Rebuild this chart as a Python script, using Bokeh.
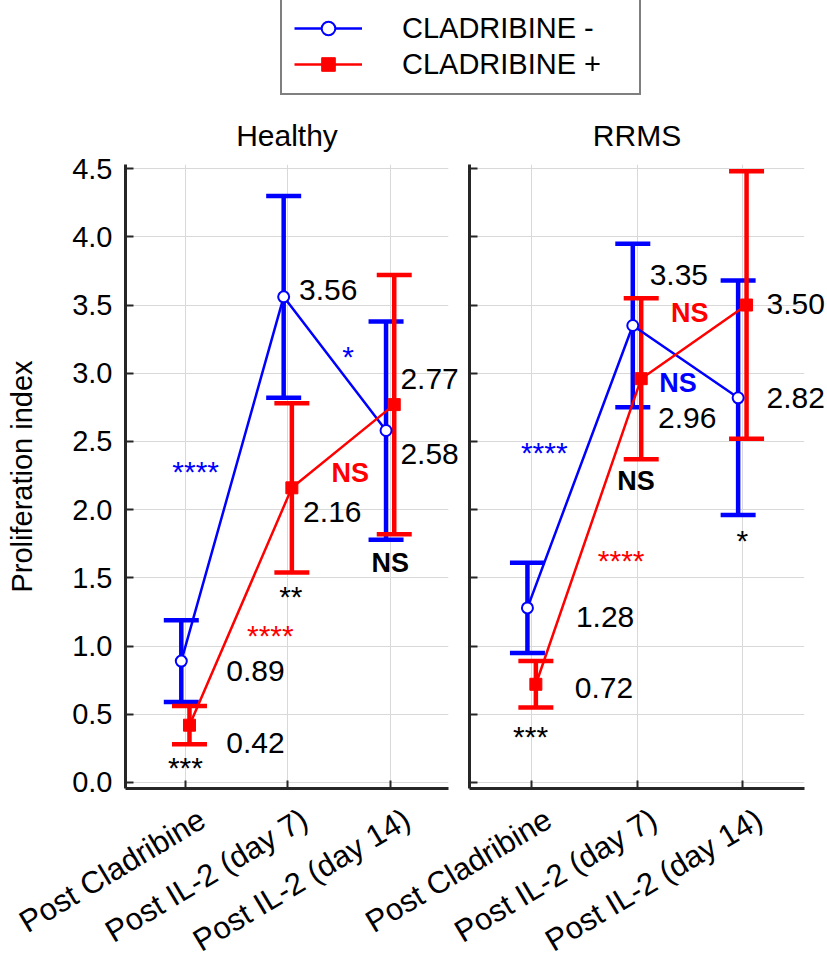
import numpy as np
from bokeh.plotting import figure
from bokeh.models import (Range1d, FixedTicker, Whisker, TeeHead, ColumnDataSource,
                          Legend, LegendItem, GridBox, PrintfTickFormatter)
from bokeh.core.properties import value
from bokeh.embed import file_html
from bokeh.resources import INLINE

# ---------------- data ----------------
categories = ["Post Cladribine", "Post IL-2 (day 7)", "Post IL-2 (day 14)"]
series_labels = ["CLADRIBINE -", "CLADRIBINE +"]
panel_titles = ["Healthy", "RRMS"]

healthy_minus = [0.89, 3.56, 2.58]
healthy_minus_err = [0.30, 0.74, 0.80]
healthy_plus = [0.42, 2.16, 2.77]
healthy_plus_err = [0.14, 0.62, 0.95]

rrms_minus = [1.28, 3.35, 2.82]
rrms_minus_err = [0.33, 0.60, 0.86]
rrms_plus = [0.72, 2.96, 3.50]
rrms_plus_err = [0.17, 0.59, 0.98]

y_ticks = [0.0, 0.5, 1.0, 1.5, 2.0, 2.5, 3.0, 3.5, 4.0, 4.5]

# significance marks: (text, x in category units, y in index units, colour)
healthy_stars = [("*", 1.59, 3.15, "#0000FF"), ("****", 0.10, 2.31, "#0000FF"),
                 ("**", 1.03, 1.39, "#000000"), ("****", 0.83, 1.11, "#FF0000"),
                 ("***", 0.0, 0.14, "#000000")]
healthy_ns = [("NS", 1.61, 2.27, "#FF0000"), ("NS", 2.0, 1.61, "#000000")]
rrms_stars = [("****", 0.12, 2.45, "#0000FF"), ("*", 2.0, 1.80, "#000000"),
              ("****", 0.85, 1.66, "#FF0000"), ("***", -0.01, 0.37, "#000000")]
rrms_ns = [("NS", 1.50, 3.44, "#FF0000"), ("NS", 1.39, 2.93, "#0000FF"),
           ("NS", 0.99, 2.21, "#000000")]

# value-label anchor positions (left edge): minus series, plus series
healthy_lbl_minus = ([0.40, 1.11, 2.10], [0.82, 3.61, 2.41])
healthy_lbl_plus = ([0.40, 1.15, 2.10], [0.29, 1.98, 2.96])
rrms_lbl_minus = ([0.42, 1.12, 2.23], [1.21, 3.72, 2.82])
rrms_lbl_plus = ([0.41, 1.20, 2.23], [0.69, 2.67, 3.51])

# ---------------- layout / style ----------------
FONT = "Liberation Sans"
BLUE = "#0000FF"
RED = "#FF0000"
W, H = 825, 960
DODGE = 0.04
LEFT_FRAME = (125, 448)
RIGHT_FRAME = (469, 804)
FRAME_Y = (164, 788)          # top, bottom in screen pixels
LEFT_X = (-0.585, 2.57)
RIGHT_X = (-0.59, 2.59)
Y_RANGE = (-0.044, 4.53)
LABEL_ANGLE = 0.54


def make_axes_panel(title, frame_x, x_rng, show_ylabels, title_offset):
    p = figure(width=W, height=H, x_range=Range1d(*x_rng), y_range=Range1d(*Y_RANGE),
               output_backend="svg", toolbar_location=None,
               min_border_left=frame_x[0], min_border_right=W - frame_x[1],
               min_border_top=FRAME_Y[0], min_border_bottom=H - FRAME_Y[1],
               title=title, frame_align=False)
    p.outline_line_color = None
    p.background_fill_alpha = 0
    p.border_fill_alpha = 0

    p.title.align = "center"
    p.title.offset = title_offset
    p.title.text_font = FONT
    p.title.text_font_size = "30px"
    p.title.text_font_style = "normal"
    p.title.text_color = "#000000"
    p.title.standoff = 25

    idx = list(range(len(categories)))
    p.xaxis.ticker = FixedTicker(ticks=idx)
    # category names are drawn rotated on the overlay (see below)
    p.xaxis.major_label_overrides = {i: "" for i in idx}

    p.yaxis.ticker = FixedTicker(ticks=y_ticks)
    p.yaxis.formatter = PrintfTickFormatter(format="%.1f")
    p.yaxis.major_label_text_font = FONT
    p.yaxis.major_label_text_font_size = "29px"
    p.yaxis.major_label_text_color = "#000000"
    p.yaxis.major_label_standoff = 13
    if show_ylabels:
        p.yaxis.axis_label = "Proliferation index"
        p.yaxis.axis_label_text_font = FONT
        p.yaxis.axis_label_text_font_size = "29px"
        p.yaxis.axis_label_text_font_style = "normal"
        p.yaxis.axis_label_text_color = "#000000"
        p.yaxis.axis_label_standoff = 31
    else:
        p.yaxis.major_label_overrides = {t: "" for t in y_ticks}

    for ax in (p.xaxis, p.yaxis):
        ax.axis_line_width = 3
        ax.axis_line_color = "#262626"
        ax.major_tick_in = 8
        ax.major_tick_out = 0
        ax.major_tick_line_width = 2
        ax.major_tick_line_color = "#262626"
        ax.minor_tick_line_color = None

    p.xgrid.ticker = FixedTicker(ticks=idx)
    p.ygrid.ticker = FixedTicker(ticks=y_ticks)
    p.grid.grid_line_color = "#d9d9d9"
    p.grid.grid_line_width = 1
    return p


def overlay_x(frame_x, x_rng):
    scale = (x_rng[1] - x_rng[0]) / (frame_x[1] - frame_x[0])
    start = x_rng[0] - frame_x[0] * scale
    return Range1d(start, start + W * scale)


left = make_axes_panel(panel_titles[0], LEFT_FRAME, LEFT_X, True, -5)
right = make_axes_panel(panel_titles[1], RIGHT_FRAME, RIGHT_X, False, 1)

# transparent overlay covering the whole page, mapped onto the panels' scales
yscale = (Y_RANGE[1] - Y_RANGE[0]) / (FRAME_Y[1] - FRAME_Y[0])
y_end = Y_RANGE[1] + FRAME_Y[0] * yscale
ov = figure(width=W, height=H, x_range=overlay_x(LEFT_FRAME, LEFT_X),
            y_range=Range1d(y_end - H * yscale, y_end),
            output_backend="svg", toolbar_location=None,
            x_axis_location=None, y_axis_location=None,
            min_border_left=0, min_border_right=0, min_border_top=0, min_border_bottom=0,
            frame_align=False)
ov.extra_x_ranges = {"right": overlay_x(RIGHT_FRAME, RIGHT_X)}
ov.grid.visible = False
ov.outline_line_color = None
ov.background_fill_alpha = 0
ov.border_fill_alpha = 0


def draw_panel(rname, minus, minus_err, plus, plus_err, lbl_minus, lbl_plus, stars, ns):
    idx = np.arange(len(categories))
    out = []
    for vals, errs, col, shift, marker in ((minus, minus_err, BLUE, -DODGE, "circle"),
                                           (plus, plus_err, RED, DODGE, "square")):
        v = np.array(vals)
        e = np.array(errs)
        src = ColumnDataSource(dict(x=idx + shift, y=v, lo=v - e, hi=v + e))
        wk = Whisker(source=src, base="x", upper="hi", lower="lo", x_range_name=rname,
                     line_color=col, line_width=4.5,
                     upper_head=TeeHead(size=35, line_color=col, line_width=4.5),
                     lower_head=TeeHead(size=35, line_color=col, line_width=4.5))
        ov.add_layout(wk)
        ln = ov.line("x", "y", source=src, line_color=col, line_width=2.5,
                     x_range_name=rname)
        if marker == "circle":
            sc = ov.scatter("x", "y", source=src, marker="circle", size=11,
                            fill_color="white", line_color=col, line_width=2,
                            x_range_name=rname)
        else:
            sc = ov.scatter("x", "y", source=src, marker="square", size=12,
                            fill_color=col, line_color=col, line_width=1,
                            x_range_name=rname)
        out.append((ln, sc))

    for vals, pos in ((minus, lbl_minus), (plus, lbl_plus)):
        ov.text(x=pos[0], y=pos[1], text=[f"{v:.2f}" for v in vals],
                text_font=value(FONT), text_font_size="30px", text_color="#000000",
                text_align="left", text_baseline="middle", x_range_name=rname)

    ov.text(x=[s[1] for s in stars], y=[s[2] for s in stars], text=[s[0] for s in stars],
            text_color=[s[3] for s in stars], text_font=value(FONT),
            text_font_size="30px", text_align="center", text_baseline="middle",
            y_offset=4, x_range_name=rname)
    ov.text(x=[s[1] for s in ns], y=[s[2] for s in ns], text=[s[0] for s in ns],
            text_color=[s[3] for s in ns], text_font=value(FONT),
            text_font_size="27px", text_font_style="bold",
            text_align="center", text_baseline="middle", x_range_name=rname)

    # rotated category names under the panel's x axis
    ov.text(x=idx, y=[Y_RANGE[0]] * len(categories), text=categories,
            angle=LABEL_ANGLE, x_offset=8, y_offset=13,
            text_font=value(FONT), text_font_size="31px", text_color="#000000",
            text_align="right", text_baseline="top", x_range_name=rname)
    return out


lr = draw_panel("default", healthy_minus, healthy_minus_err, healthy_plus, healthy_plus_err,
                healthy_lbl_minus, healthy_lbl_plus, healthy_stars, healthy_ns)
rr = draw_panel("right", rrms_minus, rrms_minus_err, rrms_plus, rrms_plus_err,
                rrms_lbl_minus, rrms_lbl_plus, rrms_stars, rrms_ns)

legend = Legend(items=[LegendItem(label=series_labels[0], renderers=list(lr[0])),
                       LegendItem(label=series_labels[1], renderers=list(lr[1]))],
                location=(280, H - 95), orientation="vertical",
                glyph_width=68, glyph_height=34, label_height=34, spacing=2,
                padding=12, label_standoff=40, label_width=225,
                label_text_font=FONT, label_text_font_size="29px",
                label_text_color="#000000",
                border_line_color="#000000", border_line_width=2,
                background_fill_color="white", background_fill_alpha=1)
ov.add_layout(legend)

layout = GridBox(children=[(left, 0, 0), (right, 0, 0), (ov, 0, 0)])

open("out.html", "w").write(file_html(layout, INLINE))
